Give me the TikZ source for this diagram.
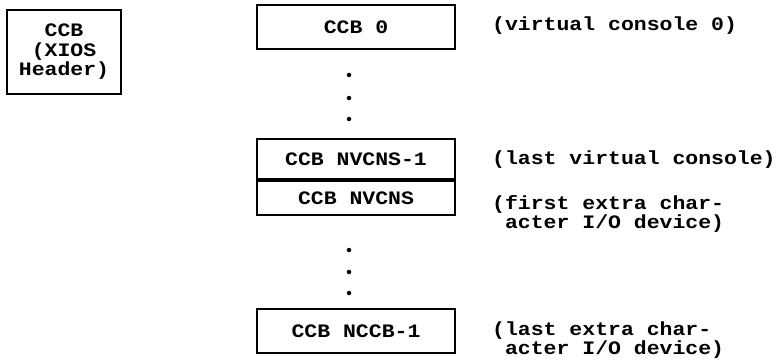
\documentclass[tikz,border=0pt]{standalone}
\usepackage{fontspec}
\setmainfont{Liberation Mono}[FakeStretch=1.13]
\newcommand\txtfont{\bfseries\fontsize{19}{17.5}\selectfont}
\begin{document}
\begin{tikzpicture}[x=1pt,y=-1pt,
  box/.style={draw,line width=2pt,inner sep=0pt,font=\txtfont},
  lbl/.style={anchor=west,align=left,inner sep=0pt,font=\txtfont},
  dot/.style={circle,fill,inner sep=0pt,minimum size=4.5pt}]
\useasboundingbox (0,0) rectangle (779,360);
% left box
\node[box,minimum width=114pt,minimum height=84pt,align=center,
      font=\bfseries\fontsize{19}{19.5}\selectfont] (xios) at (64,52)
      {CCB\\(XIOS~\\Header)};
% column of CCBs
\node[box,minimum width=198pt,minimum height=44pt] (ccb0) at (356,27) {CCB 0};
\node[box,minimum width=198pt,minimum height=40pt] (nv1) at (356,159) {CCB NVCNS-1};
\node[box,minimum width=198pt,minimum height=34pt,anchor=north] (nv) at (nv1.south) {CCB NVCNS};
\node[box,minimum width=198pt,minimum height=44pt] (nccb) at (356,331) {CCB NCCB-1};
% dots
\node[dot] (d1) at (349,75) {};
\node[dot] (d2) at (349,98) {};
\node[dot] (d3) at (349,119) {};
\node[dot] (d4) at (349,250) {};
\node[dot] (d5) at (349,272) {};
\node[dot] (d6) at (349,293) {};
% labels
\node[lbl] (l0) at (492,26) {(virtual console 0)};
\node[lbl] (l1) at (492,160) {(last virtual console)};
\node[lbl] (l2) at (492,214) {(first extra char-\\\hphantom{x}acter I/O device)};
\node[lbl] (l3) at (492,340) {(last extra char-\\\hphantom{x}acter I/O device)};
\end{tikzpicture}
\end{document}
